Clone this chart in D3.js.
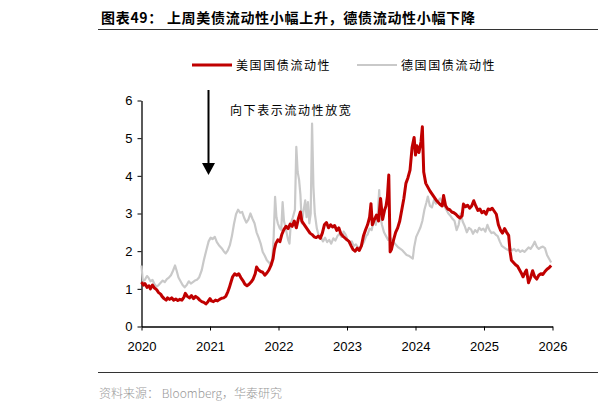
<!DOCTYPE html>
<html>
<head>
<meta charset="utf-8">
<script src="https://cdn.jsdelivr.net/npm/d3@7"></script>
<style>
  html, body { margin: 0; padding: 0; background: #fff; }
  svg { display: block; }
</style>
</head>
<body>
<div id="chart"></div>
<script>
// US / German government bond liquidity index, weekly-ish readings
const titleText = "图表49： 上周美债流动性小幅上升，德债流动性小幅下降";
const seriesNames = ["美国国债流动性", "德国国债流动性"];
const noteText = "向下表示流动性放宽";
const sourceText = "资料来源： Bloomberg，华泰研究";
const xTicks = [2020, 2021, 2022, 2023, 2024, 2025, 2026];
const yTicks = [0, 1, 2, 3, 4, 5, 6];

// [year, value]
const usSeries = [
  [2020.00, 1.18], [2020.03, 1.10], [2020.05, 1.14], [2020.08, 1.04], [2020.11, 1.08], [2020.13, 1.00],
  [2020.16, 1.10], [2020.19, 1.02], [2020.22, 0.98], [2020.25, 0.90], [2020.28, 0.86], [2020.30, 0.80],
  [2020.33, 0.74], [2020.36, 0.70], [2020.38, 0.76], [2020.41, 0.72], [2020.44, 0.76], [2020.47, 0.70],
  [2020.50, 0.73], [2020.53, 0.69], [2020.56, 0.72], [2020.59, 0.70], [2020.62, 0.78], [2020.64, 0.88],
  [2020.67, 0.80], [2020.70, 0.76], [2020.73, 0.82], [2020.76, 0.74], [2020.79, 0.80], [2020.82, 0.76],
  [2020.85, 0.70], [2020.88, 0.66], [2020.91, 0.64], [2020.94, 0.60], [2020.97, 0.66], [2021.00, 0.74],
  [2021.02, 0.68], [2021.05, 0.66], [2021.08, 0.70], [2021.11, 0.68], [2021.14, 0.72], [2021.17, 0.75],
  [2021.20, 0.76], [2021.23, 0.80], [2021.26, 0.92], [2021.28, 1.02], [2021.31, 1.20], [2021.33, 1.32],
  [2021.36, 1.40], [2021.39, 1.36], [2021.42, 1.40], [2021.45, 1.30], [2021.48, 1.22], [2021.51, 1.12],
  [2021.54, 1.08], [2021.57, 1.12], [2021.60, 1.18], [2021.63, 1.26], [2021.66, 1.40], [2021.68, 1.58],
  [2021.71, 1.50], [2021.74, 1.46], [2021.77, 1.44], [2021.80, 1.36], [2021.83, 1.42], [2021.86, 1.50],
  [2021.89, 1.62], [2021.92, 1.80], [2021.94, 2.05], [2021.96, 2.20], [2021.99, 2.30], [2022.02, 2.25],
  [2022.05, 2.45], [2022.08, 2.58], [2022.11, 2.66], [2022.14, 2.60], [2022.17, 2.72], [2022.20, 2.66],
  [2022.23, 2.80], [2022.26, 2.62], [2022.29, 2.86], [2022.32, 3.04], [2022.34, 2.80], [2022.37, 2.72],
  [2022.40, 2.64], [2022.43, 2.56], [2022.46, 2.48], [2022.49, 2.44], [2022.52, 2.38], [2022.55, 2.36],
  [2022.58, 2.40], [2022.61, 2.34], [2022.64, 2.48], [2022.67, 2.70], [2022.70, 2.76], [2022.73, 2.62],
  [2022.76, 2.70], [2022.79, 2.64], [2022.82, 2.68], [2022.85, 2.55], [2022.88, 2.62], [2022.91, 2.46],
  [2022.94, 2.40], [2022.97, 2.35], [2023.00, 2.30], [2023.03, 2.26], [2023.06, 2.14], [2023.09, 2.04],
  [2023.12, 2.00], [2023.15, 2.08], [2023.18, 2.02], [2023.21, 2.14], [2023.24, 2.40], [2023.27, 2.56],
  [2023.30, 2.70], [2023.33, 2.90], [2023.35, 3.26], [2023.37, 2.70], [2023.40, 2.84], [2023.43, 2.96],
  [2023.46, 2.80], [2023.49, 3.40], [2023.52, 2.84], [2023.55, 3.10], [2023.57, 3.20], [2023.59, 3.45],
  [2023.61, 4.02], [2023.63, 1.98], [2023.65, 2.05], [2023.68, 2.30], [2023.71, 2.50], [2023.74, 2.62],
  [2023.77, 2.80], [2023.80, 3.10], [2023.83, 3.40], [2023.86, 3.80], [2023.89, 3.95], [2023.92, 4.15],
  [2023.95, 4.75], [2023.98, 5.02], [2024.00, 4.55], [2024.02, 4.80], [2024.05, 4.62], [2024.08, 4.90],
  [2024.10, 5.30], [2024.12, 4.10], [2024.15, 3.80], [2024.18, 3.70], [2024.21, 3.60], [2024.24, 3.52],
  [2024.27, 3.44], [2024.30, 3.36], [2024.33, 3.30], [2024.36, 3.24], [2024.39, 3.20], [2024.41, 3.48],
  [2024.44, 3.20], [2024.47, 3.12], [2024.50, 3.10], [2024.53, 3.04], [2024.56, 3.02], [2024.59, 2.98],
  [2024.62, 2.92], [2024.65, 2.88], [2024.68, 2.94], [2024.70, 3.25], [2024.73, 3.18], [2024.76, 3.22],
  [2024.79, 3.14], [2024.82, 3.20], [2024.85, 3.34], [2024.88, 3.20], [2024.91, 3.08], [2024.94, 3.12],
  [2024.97, 3.02], [2025.00, 3.06], [2025.03, 2.98], [2025.06, 3.12], [2025.09, 3.10], [2025.12, 3.14],
  [2025.15, 3.06], [2025.18, 2.98], [2025.21, 2.70], [2025.24, 2.56], [2025.27, 2.48], [2025.30, 2.60],
  [2025.33, 2.50], [2025.36, 2.42], [2025.38, 2.00], [2025.40, 1.76], [2025.43, 1.70], [2025.46, 1.64],
  [2025.49, 1.60], [2025.52, 1.50], [2025.55, 1.40], [2025.57, 1.32], [2025.60, 1.44], [2025.62, 1.50],
  [2025.65, 1.16], [2025.68, 1.30], [2025.71, 1.48], [2025.74, 1.32], [2025.77, 1.26], [2025.80, 1.36],
  [2025.83, 1.40], [2025.86, 1.38], [2025.89, 1.46], [2025.92, 1.52], [2025.95, 1.56], [2025.98, 1.62]
];

const deSeries = [
  [2020.00, 1.62], [2020.01, 1.40], [2020.02, 1.20], [2020.05, 1.24], [2020.08, 1.34], [2020.10, 1.30],
  [2020.13, 1.20], [2020.16, 1.24], [2020.19, 1.12], [2020.22, 1.06], [2020.25, 1.10], [2020.28, 1.16],
  [2020.31, 1.22], [2020.34, 1.18], [2020.37, 1.26], [2020.40, 1.30], [2020.43, 1.36], [2020.46, 1.48],
  [2020.49, 1.62], [2020.51, 1.50], [2020.54, 1.30], [2020.57, 1.20], [2020.60, 1.10], [2020.63, 1.04],
  [2020.66, 1.10], [2020.69, 1.20], [2020.72, 1.14], [2020.75, 1.18], [2020.78, 1.22], [2020.81, 1.24],
  [2020.84, 1.30], [2020.88, 1.50], [2020.91, 1.76], [2020.95, 2.05], [2020.98, 2.26], [2021.01, 2.36],
  [2021.04, 2.32], [2021.07, 2.38], [2021.10, 2.24], [2021.13, 2.16], [2021.17, 2.08], [2021.20, 2.00],
  [2021.23, 1.94], [2021.26, 2.02], [2021.29, 2.16], [2021.32, 2.40], [2021.35, 2.72], [2021.38, 2.98],
  [2021.41, 3.10], [2021.44, 3.02], [2021.47, 3.04], [2021.50, 2.88], [2021.53, 2.76], [2021.56, 2.84],
  [2021.59, 3.00], [2021.62, 2.86], [2021.65, 2.74], [2021.68, 2.50], [2021.71, 2.36], [2021.74, 2.20],
  [2021.77, 1.98], [2021.80, 1.88], [2021.83, 1.76], [2021.86, 1.70], [2021.89, 1.62], [2021.91, 1.80],
  [2021.93, 2.40], [2021.95, 3.44], [2021.97, 2.90], [2021.99, 2.74], [2022.02, 2.60], [2022.04, 2.56],
  [2022.06, 3.30], [2022.08, 2.80], [2022.11, 2.56], [2022.14, 2.30], [2022.16, 2.20], [2022.18, 2.74],
  [2022.21, 2.90], [2022.24, 3.10], [2022.26, 4.77], [2022.28, 4.10], [2022.30, 3.90], [2022.32, 3.50],
  [2022.34, 2.74], [2022.36, 3.00], [2022.39, 3.35], [2022.41, 2.90], [2022.43, 3.30], [2022.45, 2.74],
  [2022.47, 3.00], [2022.49, 5.39], [2022.51, 3.70], [2022.53, 3.00], [2022.56, 2.60], [2022.59, 2.40],
  [2022.62, 2.36], [2022.65, 2.26], [2022.68, 2.36], [2022.71, 2.24], [2022.74, 2.30], [2022.77, 2.20],
  [2022.80, 2.34], [2022.83, 2.28], [2022.86, 2.40], [2022.89, 2.46], [2022.92, 2.38], [2022.95, 2.52],
  [2022.98, 2.44], [2023.01, 2.30], [2023.04, 2.20], [2023.07, 2.26], [2023.10, 2.14], [2023.13, 2.18],
  [2023.16, 2.10], [2023.19, 2.08], [2023.22, 2.16], [2023.25, 2.26], [2023.28, 2.40], [2023.30, 2.44],
  [2023.33, 2.60], [2023.36, 2.56], [2023.39, 2.80], [2023.42, 2.70], [2023.45, 3.00], [2023.47, 3.62],
  [2023.49, 2.90], [2023.51, 2.70], [2023.54, 2.50], [2023.57, 2.40], [2023.60, 2.30], [2023.63, 2.36],
  [2023.66, 2.28], [2023.69, 2.22], [2023.72, 2.16], [2023.75, 2.10], [2023.78, 2.06], [2023.81, 2.02],
  [2023.84, 1.96], [2023.87, 1.90], [2023.90, 1.88], [2023.93, 1.84], [2023.96, 1.80], [2023.98, 2.10],
  [2024.01, 2.38], [2024.04, 2.50], [2024.07, 2.62], [2024.10, 2.80], [2024.13, 3.10], [2024.16, 3.30],
  [2024.18, 3.45], [2024.21, 3.20], [2024.24, 3.16], [2024.27, 3.36], [2024.30, 3.26], [2024.33, 3.34],
  [2024.36, 3.40], [2024.39, 3.30], [2024.42, 3.20], [2024.45, 3.10], [2024.48, 3.00], [2024.51, 2.94],
  [2024.54, 2.86], [2024.57, 2.80], [2024.60, 2.56], [2024.63, 2.70], [2024.66, 3.00], [2024.69, 2.78],
  [2024.72, 2.66], [2024.75, 2.50], [2024.78, 2.62], [2024.81, 2.58], [2024.84, 2.46], [2024.87, 2.56],
  [2024.90, 2.50], [2024.93, 2.62], [2024.96, 2.56], [2024.99, 2.60], [2025.02, 2.52], [2025.05, 2.70],
  [2025.08, 2.56], [2025.11, 2.48], [2025.14, 2.50], [2025.17, 2.44], [2025.20, 2.40], [2025.23, 2.26],
  [2025.26, 2.14], [2025.29, 2.10], [2025.32, 2.06], [2025.35, 2.03], [2025.38, 2.08], [2025.41, 2.02],
  [2025.44, 2.06], [2025.47, 2.00], [2025.50, 2.04], [2025.53, 1.98], [2025.56, 2.02], [2025.59, 1.98],
  [2025.62, 2.04], [2025.65, 2.10], [2025.68, 2.06], [2025.71, 2.14], [2025.74, 2.25], [2025.77, 2.12],
  [2025.80, 2.06], [2025.83, 2.10], [2025.86, 2.12], [2025.89, 2.08], [2025.92, 1.90], [2025.95, 1.80],
  [2025.98, 1.70]
];

const width = 598, height = 403;
const margin = { top: 100.5, right: 45.5, bottom: 76.5, left: 141.5 };
const cjk = "'Noto Sans CJK SC', 'Noto Sans', sans-serif";
const latin = "'Liberation Sans', Arial, sans-serif";

const svg = d3.select("#chart")
  .append("svg")
  .attr("width", width)
  .attr("height", height);

svg.append("rect").attr("width", width).attr("height", height).attr("fill", "#fff");

// title + rules
svg.append("text")
  .attr("x", 101)
  .attr("y", 23)
  .style("font-family", cjk)
  .style("font-size", "14px")
  .style("font-weight", "bold")
  .style("letter-spacing", "0.7px")
  .style("fill", "#000")
  .text(titleText);

svg.append("line")
  .attr("x1", 98).attr("x2", 598)
  .attr("y1", 29.5).attr("y2", 29.5)
  .attr("stroke", "#333").attr("stroke-width", 1);

svg.append("line")
  .attr("x1", 98).attr("x2", 598)
  .attr("y1", 372.5).attr("y2", 372.5)
  .attr("stroke", "#333").attr("stroke-width", 1);

svg.append("text")
  .attr("x", 99)
  .attr("y", 397.5)
  .style("font-family", cjk)
  .style("font-size", "12px")
  .style("font-weight", "300")
  .style("fill", "#999")
  .text(sourceText);

// scales
const x = d3.scaleLinear().domain([2020, 2026]).range([margin.left, width - margin.right]);
const y = d3.scaleLinear().domain([0, 6]).range([height - margin.bottom, margin.top]);

// axes
const xAxis = svg.append("g")
  .attr("transform", `translate(0,${height - margin.bottom})`)
  .call(d3.axisBottom(x).tickValues(xTicks).tickFormat(d3.format("d")).tickSize(4).tickSizeOuter(0));

const yAxis = svg.append("g")
  .attr("transform", `translate(${margin.left},0)`)
  .call(d3.axisLeft(y).tickValues(yTicks).tickFormat(d3.format("d")).tickSize(4).tickSizeOuter(0));

[xAxis, yAxis].forEach(g => {
  g.select(".domain").attr("stroke", "#000").attr("stroke-width", 1.3);
  g.selectAll(".tick line").attr("stroke", "#000").attr("stroke-width", 1);
  g.selectAll(".tick text")
    .style("font-family", latin)
    .style("font-size", "13px")
    .attr("fill", "#000");
});
xAxis.selectAll(".tick text").attr("dy", "1.35em");
yAxis.selectAll(".tick text").attr("x", -9);

// lines
const line = d3.line()
  .x(d => x(d[0]))
  .y(d => y(d[1]));

svg.append("path")
  .datum(deSeries)
  .attr("fill", "none")
  .attr("stroke", "#c9c9c9")
  .attr("stroke-width", 2.2)
  .attr("stroke-linejoin", "round")
  .attr("d", line);

svg.append("path")
  .datum(usSeries)
  .attr("fill", "none")
  .attr("stroke", "#c00000")
  .attr("stroke-width", 3)
  .attr("stroke-linejoin", "round")
  .attr("d", line);

// legend
const legend = svg.append("g").attr("transform", "translate(0,65)");
const legendItems = [
  { name: seriesNames[0], color: "#c00000", w: 3, x: 192 },
  { name: seriesNames[1], color: "#c9c9c9", w: 2, x: 357 }
];
legendItems.forEach(item => {
  legend.append("line")
    .attr("x1", item.x).attr("x2", item.x + 40)
    .attr("y1", 0).attr("y2", 0)
    .attr("stroke", item.color).attr("stroke-width", item.w);
  legend.append("text")
    .attr("x", item.x + 44)
    .attr("y", 4.5)
    .style("font-family", cjk)
    .style("font-size", "12px")
    .style("letter-spacing", "1.6px")
    .style("fill", "#000")
    .text(item.name);
});

// annotation arrow
svg.append("line")
  .attr("x1", 208.5).attr("x2", 208.5)
  .attr("y1", 90).attr("y2", 166)
  .attr("stroke", "#000").attr("stroke-width", 2);

svg.append("path")
  .attr("d", "M202,163 L215,163 L208.5,175 Z")
  .attr("fill", "#000");

svg.append("text")
  .attr("x", 230)
  .attr("y", 115)
  .style("font-family", cjk)
  .style("font-size", "12px")
  .style("letter-spacing", "1.6px")
  .style("fill", "#000")
  .text(noteText);
</script>
</body>
</html>
